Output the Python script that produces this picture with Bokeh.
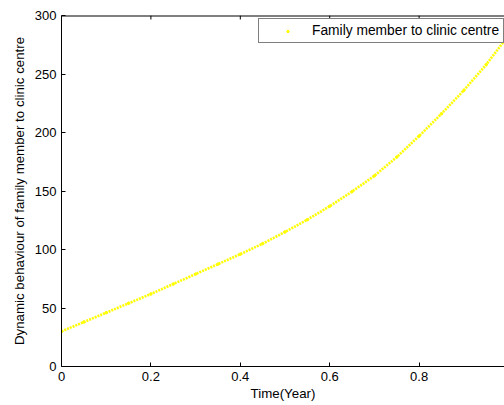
from bokeh.plotting import figure
from bokeh.models import Range1d, LinearAxis, FixedTicker, Legend, LegendItem
from bokeh.embed import file_html
from bokeh.resources import INLINE

# Time (years) and the number moving from family member to clinic centre
time_year = [0.00, 0.05, 0.10, 0.15, 0.20, 0.25, 0.30, 0.35, 0.40, 0.45,
             0.50, 0.55, 0.60, 0.65, 0.70, 0.75, 0.80, 0.85, 0.90, 0.95, 0.99]
family_to_clinic = [30, 38, 46, 54, 62, 70.5, 79, 87.5, 96, 105,
                    115, 125.5, 137, 149.5, 163, 179, 197, 216, 236, 258, 278]

x_ticks = [0, 0.2, 0.4, 0.6, 0.8, 1.0]
y_ticks = [0, 50, 100, 150, 200, 250, 300]

FONT = "Liberation Sans"
YELLOW = "#ffff00"
X_END = 0.991
Y_TOP = 300

p = figure(width=504, height=405, output_backend="svg", toolbar_location=None,
           x_axis_location=None, y_axis_location=None,
           min_border_left=61, min_border_right=0, min_border_top=15,
           min_border_bottom=39)
p.x_range = Range1d(0, X_END)
p.y_range = Range1d(0, Y_TOP)
p.grid.visible = False
p.outline_line_color = None
p.background_fill_color = "white"
p.border_fill_color = "white"


def style_axis(ax):
    ax.axis_line_color = "black"
    ax.axis_line_width = 1
    ax.major_tick_in = 4
    ax.major_tick_out = 0
    ax.minor_tick_in = 0
    ax.minor_tick_out = 0
    ax.major_tick_line_color = "black"
    ax.major_label_text_font = FONT
    ax.major_label_text_font_size = "13px"
    ax.major_label_text_color = "black"
    ax.axis_label_text_font = FONT
    ax.axis_label_text_font_size = "13.3px"
    ax.axis_label_text_font_style = "normal"
    ax.axis_label_text_color = "black"


xb = LinearAxis(ticker=FixedTicker(ticks=x_ticks), axis_label="Time(Year)")
style_axis(xb)
xb.major_label_standoff = 5
xb.axis_label_standoff = 2
p.add_layout(xb, "below")

yl = LinearAxis(ticker=FixedTicker(ticks=y_ticks),
                axis_label="Dynamic behaviour of family member to clinic centre")
style_axis(yl)
yl.major_label_standoff = 5
yl.axis_label_standoff = 5
p.add_layout(yl, "left")

# top box edge with inward ticks (no labels)
tick_len = 4 * Y_TOP / 351.0
p.segment(x0=[0], y0=[Y_TOP], x1=[X_END], y1=[Y_TOP],
          line_color="black", line_width=2)
top_ticks = [t for t in x_ticks if t <= X_END]
p.segment(x0=top_ticks, y0=[Y_TOP] * len(top_ticks),
          x1=top_ticks, y1=[Y_TOP - tick_len] * len(top_ticks),
          line_color="black", line_width=1)

# the trajectory as a dense yellow dotted trace
p.line(time_year, family_to_clinic, line_color=YELLOW, line_width=2.6,
       line_dash="2 1")
dots = p.scatter(time_year, family_to_clinic, size=2.5, marker="circle",
                 fill_color=YELLOW, line_color=YELLOW)

legend = Legend(items=[LegendItem(label="Family member to clinic centre",
                                  renderers=[dots])],
                location=(197, 323), orientation="vertical")
legend.padding = 4
legend.glyph_width = 49
legend.glyph_height = 6
legend.label_standoff = 0
legend.label_height = 14
legend.label_text_font = FONT
legend.label_text_font_size = "13.8px"
legend.label_text_color = "black"
legend.border_line_color = "black"
legend.border_line_width = 1
legend.background_fill_color = "white"
legend.background_fill_alpha = 1
legend.margin = 0
p.add_layout(legend, "center")

open("out.html", "w").write(file_html(p, INLINE))
